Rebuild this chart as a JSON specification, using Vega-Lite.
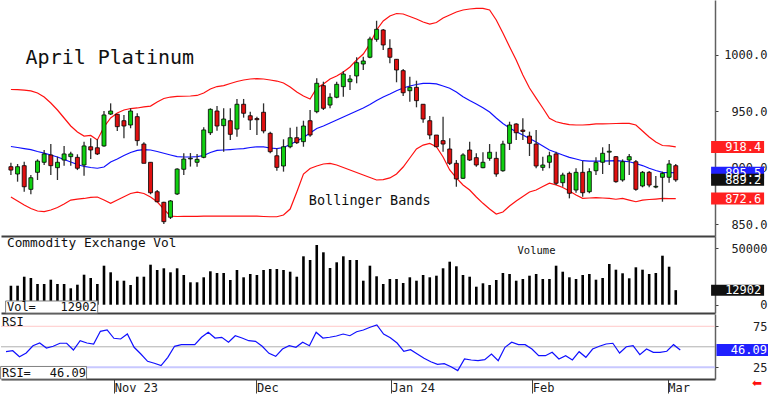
{
  "$schema": "https://vega.github.io/schema/vega-lite/v6.json",
  "padding": 0,
  "spacing": 0,
  "background": "white",
  "config": {
    "view": {"stroke": null},
    "axis": {"grid": false, "title": null, "labelFont": "DejaVu Sans Mono", "labelFontSize": 12, "labelColor": "#202020"},
    "text": {"font": "DejaVu Sans Mono"}
  },
  "datasets": {
    "one": [{}],
    "bars": [
      {"i":0,"o":900.9,"h":904.4,"l":893.5,"c":897.9,"u":969.4,"m":918.8,"b":874.0,"v":16843,"r":44.0},
      {"i":1,"o":894.4,"h":903.3,"l":887.6,"c":900.9,"u":969.2,"m":917.9,"b":870.5,"v":16843,"r":45.2},
      {"i":2,"o":901.8,"h":905.3,"l":878.7,"c":883.1,"u":968.9,"m":917.0,"b":866.9,"v":24822,"r":37.9},
      {"i":3,"o":880.8,"h":893.5,"l":876.4,"c":891.1,"u":968.1,"m":916.1,"b":863.8,"v":23670,"r":42.4},
      {"i":4,"o":895.9,"h":907.4,"l":889.1,"c":905.9,"u":966.3,"m":914.4,"b":861.6,"v":18350,"r":51.3},
      {"i":5,"o":904.8,"h":915.7,"l":902.4,"c":912.2,"u":962.7,"m":913.0,"b":861.1,"v":18350,"r":54.6},
      {"i":6,"o":911.3,"h":921.0,"l":893.5,"c":901.8,"u":957.4,"m":911.3,"b":862.5,"v":22163,"r":48.5},
      {"i":7,"o":900.0,"h":909.8,"l":889.1,"c":904.8,"u":951.2,"m":909.5,"b":864.7,"v":18350,"r":50.6},
      {"i":8,"o":906.8,"h":919.3,"l":901.8,"c":912.2,"u":944.1,"m":907.3,"b":867.8,"v":18350,"r":54.3},
      {"i":9,"o":909.8,"h":914.2,"l":901.8,"c":912.2,"u":937.0,"m":905.1,"b":871.3,"v":14540,"r":54.3},
      {"i":10,"o":909.2,"h":911.9,"l":897.9,"c":899.5,"u":931.7,"m":902.8,"b":872.2,"v":17730,"r":46.1},
      {"i":11,"o":902.4,"h":923.1,"l":892.9,"c":919.3,"u":928.1,"m":901.1,"b":872.7,"v":26595,"r":57.4},
      {"i":12,"o":918.6,"h":926.1,"l":907.7,"c":915.7,"u":928.6,"m":900.2,"b":873.6,"v":23670,"r":54.6},
      {"i":13,"o":917.7,"h":925.2,"l":911.3,"c":912.2,"u":924.6,"m":899.5,"b":874.0,"v":18350,"r":53.4},
      {"i":14,"o":919.3,"h":950.3,"l":918.6,"c":946.8,"u":936.1,"m":900.6,"b":871.3,"v":34574,"r":68.9},
      {"i":15,"o":947.6,"h":957.1,"l":946.8,"c":950.3,"u":944.1,"m":905.1,"b":868.4,"v":28720,"r":70.5},
      {"i":16,"o":947.4,"h":947.4,"l":932.6,"c":936.4,"u":948.5,"m":907.7,"b":871.3,"v":21276,"r":60.4},
      {"i":17,"o":941.7,"h":946.8,"l":926.1,"c":937.0,"u":951.2,"m":910.8,"b":874.3,"v":21276,"r":59.5},
      {"i":18,"o":937.9,"h":952.7,"l":935.0,"c":950.3,"u":952.5,"m":913.5,"b":877.1,"v":17460,"r":65.6},
      {"i":19,"o":945.3,"h":948.3,"l":919.5,"c":924.0,"u":953.0,"m":915.3,"b":878.4,"v":24822,"r":49.4},
      {"i":20,"o":921.0,"h":922.5,"l":903.9,"c":903.9,"u":953.9,"m":916.0,"b":877.1,"v":24822,"r":41.2},
      {"i":21,"o":904.8,"h":904.8,"l":876.4,"c":877.8,"u":954.7,"m":915.7,"b":874.0,"v":35460,"r":32.3},
      {"i":22,"o":878.7,"h":880.2,"l":869.3,"c":869.8,"u":958.3,"m":914.4,"b":869.8,"v":30760,"r":29.9},
      {"i":23,"o":869.3,"h":869.8,"l":850.0,"c":852.1,"u":961.4,"m":912.8,"b":863.3,"v":32270,"r":27.0},
      {"i":24,"o":856.0,"h":871.3,"l":854.5,"c":870.5,"u":962.7,"m":911.3,"b":857.1,"v":28720,"r":37.2},
      {"i":25,"o":876.7,"h":899.5,"l":875.8,"c":898.8,"u":963.2,"m":909.9,"b":856.7,"v":32270,"r":50.6},
      {"i":26,"o":898.6,"h":912.8,"l":893.5,"c":907.7,"u":963.4,"m":909.5,"b":856.8,"v":26330,"r":52.6},
      {"i":27,"o":907.8,"h":913.0,"l":901.0,"c":908.4,"u":963.6,"m":909.5,"b":856.8,"v":19860,"r":52.6},
      {"i":28,"o":904.8,"h":912.2,"l":900.9,"c":907.4,"u":964.1,"m":909.9,"b":856.9,"v":19860,"r":52.6},
      {"i":29,"o":909.2,"h":935.8,"l":908.3,"c":933.5,"u":966.3,"m":910.8,"b":857.0,"v":24290,"r":61.6},
      {"i":30,"o":931.0,"h":952.7,"l":929.0,"c":951.8,"u":969.8,"m":913.5,"b":857.1,"v":29610,"r":67.7},
      {"i":31,"o":950.3,"h":954.7,"l":932.8,"c":937.0,"u":972.0,"m":915.3,"b":857.1,"v":28100,"r":60.7},
      {"i":32,"o":937.3,"h":952.7,"l":914.2,"c":943.2,"u":972.9,"m":915.7,"b":857.0,"v":28100,"r":61.6},
      {"i":33,"o":941.7,"h":952.7,"l":924.6,"c":929.6,"u":974.7,"m":916.1,"b":857.0,"v":21900,"r":55.5},
      {"i":34,"o":934.3,"h":961.0,"l":927.5,"c":956.3,"u":976.5,"m":916.6,"b":857.1,"v":30760,"r":63.5},
      {"i":35,"o":956.3,"h":961.0,"l":944.4,"c":948.3,"u":977.8,"m":917.0,"b":857.1,"v":24290,"r":60.7},
      {"i":36,"o":946.1,"h":949.7,"l":933.5,"c":942.3,"u":978.7,"m":917.9,"b":857.0,"v":27220,"r":57.4},
      {"i":37,"o":943.6,"h":945.3,"l":929.0,"c":942.6,"u":979.0,"m":918.6,"b":857.0,"v":26330,"r":56.7},
      {"i":38,"o":949.2,"h":957.1,"l":930.5,"c":932.6,"u":978.7,"m":918.4,"b":856.7,"v":30760,"r":50.6},
      {"i":39,"o":930.5,"h":932.0,"l":912.8,"c":914.2,"u":977.8,"m":917.5,"b":856.5,"v":31650,"r":42.0},
      {"i":40,"o":910.6,"h":917.2,"l":897.3,"c":900.3,"u":976.9,"m":916.9,"b":856.5,"v":31650,"r":38.4},
      {"i":41,"o":901.5,"h":925.2,"l":896.5,"c":918.6,"u":975.2,"m":917.9,"b":858.0,"v":30760,"r":47.3},
      {"i":42,"o":918.6,"h":935.5,"l":917.2,"c":926.6,"u":971.6,"m":920.6,"b":863.3,"v":29250,"r":51.3},
      {"i":43,"o":926.6,"h":936.4,"l":921.0,"c":922.2,"u":967.2,"m":923.7,"b":878.4,"v":24822,"r":49.4},
      {"i":44,"o":923.1,"h":941.7,"l":918.6,"c":937.0,"u":963.6,"m":926.8,"b":894.4,"v":42900,"r":55.5},
      {"i":45,"o":941.7,"h":951.2,"l":927.5,"c":929.0,"u":961.0,"m":930.8,"b":899.3,"v":39630,"r":51.3},
      {"i":46,"o":949.7,"h":979.3,"l":948.3,"c":974.9,"u":970.7,"m":934.8,"b":901.5,"v":52920,"r":67.7},
      {"i":47,"o":972.8,"h":976.3,"l":951.2,"c":952.7,"u":974.3,"m":937.0,"b":903.3,"v":46450,"r":60.7},
      {"i":48,"o":955.6,"h":966.0,"l":952.7,"c":962.5,"u":978.7,"m":939.7,"b":903.9,"v":32530,"r":61.6},
      {"i":49,"o":962.5,"h":976.3,"l":961.6,"c":974.0,"u":981.4,"m":942.3,"b":902.4,"v":37590,"r":63.2},
      {"i":50,"o":971.9,"h":985.8,"l":963.0,"c":983.1,"u":984.9,"m":945.0,"b":900.2,"v":42900,"r":65.6},
      {"i":51,"o":976.3,"h":982.3,"l":968.9,"c":978.7,"u":989.4,"m":947.6,"b":898.0,"v":39630,"r":63.5},
      {"i":52,"o":981.4,"h":998.0,"l":974.9,"c":993.2,"u":995.6,"m":950.3,"b":895.7,"v":39630,"r":68.4},
      {"i":53,"o":992.0,"h":998.5,"l":986.7,"c":994.7,"u":1000.9,"m":953.0,"b":893.5,"v":21276,"r":70.5},
      {"i":54,"o":998.0,"h":1016.2,"l":997.1,"c":1014.2,"u":1009.8,"m":956.1,"b":891.3,"v":34574,"r":73.8},
      {"i":55,"o":1013.9,"h":1030.4,"l":1011.8,"c":1022.8,"u":1022.2,"m":959.6,"b":889.1,"v":25180,"r":76.6},
      {"i":56,"o":1022.2,"h":1023.1,"l":1004.4,"c":1008.9,"u":1030.2,"m":962.7,"b":889.5,"v":18350,"r":65.6},
      {"i":57,"o":1005.9,"h":1013.9,"l":992.6,"c":998.0,"u":1034.6,"m":965.4,"b":890.9,"v":22780,"r":61.1},
      {"i":58,"o":996.2,"h":996.4,"l":975.8,"c":986.7,"u":1036.8,"m":968.3,"b":894.4,"v":22780,"r":54.6},
      {"i":59,"o":986.1,"h":987.6,"l":963.6,"c":966.5,"u":1036.4,"m":970.7,"b":900.6,"v":19240,"r":44.5},
      {"i":60,"o":968.3,"h":980.7,"l":958.6,"c":971.3,"u":1034.2,"m":972.5,"b":908.6,"v":24290,"r":46.5},
      {"i":61,"o":971.3,"h":977.2,"l":953.6,"c":959.5,"u":1031.9,"m":973.8,"b":916.6,"v":21276,"r":41.2},
      {"i":62,"o":956.3,"h":956.3,"l":939.9,"c":943.2,"u":1029.3,"m":974.9,"b":920.1,"v":26330,"r":36.0},
      {"i":63,"o":941.7,"h":945.9,"l":925.2,"c":929.0,"u":1027.5,"m":974.9,"b":921.6,"v":24290,"r":31.8},
      {"i":64,"o":929.0,"h":929.0,"l":918.1,"c":918.6,"u":1028.8,"m":974.3,"b":918.6,"v":25710,"r":28.6},
      {"i":65,"o":924.0,"h":945.3,"l":914.2,"c":921.0,"u":1032.8,"m":972.5,"b":909.5,"v":32270,"r":29.4},
      {"i":66,"o":916.6,"h":926.1,"l":902.4,"c":903.9,"u":1035.5,"m":970.5,"b":898.0,"v":38120,"r":25.7},
      {"i":67,"o":903.9,"h":906.8,"l":883.1,"c":890.0,"u":1038.2,"m":967.2,"b":890.9,"v":34040,"r":20.9},
      {"i":68,"o":890.6,"h":912.8,"l":890.0,"c":911.3,"u":1039.9,"m":963.0,"b":884.7,"v":26330,"r":35.1},
      {"i":69,"o":915.7,"h":923.1,"l":905.9,"c":906.8,"u":1040.8,"m":959.6,"b":880.2,"v":24820,"r":33.9},
      {"i":70,"o":908.9,"h":912.8,"l":900.9,"c":902.4,"u":1041.3,"m":956.5,"b":874.0,"v":15960,"r":33.1},
      {"i":71,"o":900.0,"h":913.7,"l":899.5,"c":904.8,"u":1041.4,"m":953.2,"b":868.4,"v":18970,"r":34.3},
      {"i":72,"o":908.3,"h":921.0,"l":906.2,"c":913.7,"u":1039.9,"m":949.4,"b":863.3,"v":17460,"r":41.2},
      {"i":73,"o":908.3,"h":914.2,"l":892.0,"c":894.4,"u":1031.1,"m":944.1,"b":858.9,"v":21900,"r":33.1},
      {"i":74,"o":897.3,"h":924.0,"l":896.5,"c":921.0,"u":1019.5,"m":939.2,"b":860.7,"v":28100,"r":49.4},
      {"i":75,"o":921.6,"h":940.8,"l":915.7,"c":937.9,"u":1007.4,"m":935.2,"b":866.0,"v":27220,"r":55.5},
      {"i":76,"o":938.8,"h":939.4,"l":924.6,"c":931.0,"u":995.6,"m":931.9,"b":870.5,"v":21276,"r":52.6},
      {"i":77,"o":933.4,"h":943.8,"l":924.6,"c":932.2,"u":982.3,"m":929.0,"b":874.4,"v":22780,"r":52.6},
      {"i":78,"o":928.1,"h":932.0,"l":910.4,"c":921.6,"u":970.7,"m":925.9,"b":878.4,"v":25710,"r":47.3},
      {"i":79,"o":921.0,"h":933.5,"l":899.5,"c":901.5,"u":961.8,"m":922.8,"b":880.2,"v":27220,"r":39.1},
      {"i":80,"o":900.3,"h":909.8,"l":897.3,"c":902.4,"u":953.0,"m":919.3,"b":883.3,"v":22780,"r":39.1},
      {"i":81,"o":904.8,"h":914.2,"l":899.5,"c":910.6,"u":943.8,"m":915.7,"b":886.2,"v":22780,"r":43.3},
      {"i":82,"o":912.2,"h":914.2,"l":884.6,"c":886.2,"u":940.8,"m":913.5,"b":884.7,"v":34570,"r":35.1},
      {"i":83,"o":886.7,"h":895.6,"l":883.1,"c":893.5,"u":939.4,"m":911.3,"b":882.4,"v":29250,"r":39.1},
      {"i":84,"o":895.0,"h":896.5,"l":872.8,"c":877.3,"u":938.3,"m":909.2,"b":879.3,"v":24290,"r":33.9},
      {"i":85,"o":880.2,"h":899.5,"l":877.8,"c":895.9,"u":937.9,"m":907.7,"b":875.8,"v":22780,"r":44.0},
      {"i":86,"o":895.9,"h":905.9,"l":874.3,"c":877.8,"u":937.9,"m":906.2,"b":872.8,"v":26330,"r":37.2},
      {"i":87,"o":878.7,"h":899.5,"l":877.3,"c":896.5,"u":938.3,"m":905.9,"b":873.1,"v":27220,"r":47.3},
      {"i":88,"o":897.3,"h":909.2,"l":893.5,"c":904.8,"u":938.8,"m":905.9,"b":873.4,"v":22160,"r":50.6},
      {"i":89,"o":904.8,"h":918.1,"l":894.4,"c":912.8,"u":938.8,"m":905.9,"b":873.1,"v":23670,"r":53.4},
      {"i":90,"o":913.8,"h":921.0,"l":902.4,"c":914.6,"u":939.0,"m":906.1,"b":872.7,"v":36080,"r":54.3},
      {"i":91,"o":909.8,"h":910.4,"l":886.7,"c":887.6,"u":939.2,"m":906.2,"b":872.0,"v":31030,"r":42.4},
      {"i":92,"o":889.1,"h":907.4,"l":887.6,"c":905.3,"u":939.4,"m":905.9,"b":872.8,"v":27840,"r":50.1},
      {"i":93,"o":906.8,"h":912.2,"l":893.5,"c":909.8,"u":939.4,"m":905.3,"b":871.3,"v":23400,"r":51.3},
      {"i":94,"o":905.3,"h":906.8,"l":879.6,"c":880.8,"u":937.9,"m":903.7,"b":869.8,"v":33150,"r":40.4},
      {"i":95,"o":883.8,"h":897.1,"l":882.6,"c":895.9,"u":932.6,"m":901.9,"b":871.3,"v":31030,"r":47.3},
      {"i":96,"o":895.9,"h":897.1,"l":882.6,"c":884.6,"u":927.2,"m":899.5,"b":871.8,"v":27220,"r":43.3},
      {"i":97,"o":882.8,"h":892.6,"l":881.7,"c":883.5,"u":922.8,"m":897.5,"b":872.2,"v":28100,"r":43.3},
      {"i":98,"o":891.5,"h":896.5,"l":869.8,"c":895.0,"u":919.7,"m":895.9,"b":872.7,"v":43440,"r":44.5},
      {"i":99,"o":891.5,"h":906.8,"l":886.7,"c":903.3,"u":919.3,"m":895.7,"b":872.5,"v":33690,"r":52.6},
      {"i":100,"o":901.8,"h":903.3,"l":887.6,"c":889.2,"u":918.4,"m":895.5,"b":872.6,"v":12902,"r":46.09}
    ],
    "priceFlags": [
      {"k": "upper", "val": 918.4},
      {"k": "mid", "val": 895.5},
      {"k": "close", "val": 889.2},
      {"k": "lower", "val": 872.6}
    ]
  },
  "vconcat": [
    {
      "width": 714,
      "height": 236,
      "data": {"name": "bars"},
      "layer": [
        {
          "mark": {"type": "line", "color": "#ff1010", "strokeWidth": 1.2},
          "encoding": {
            "x": {"field": "i", "type": "quantitative", "scale": {"domain": [-0.74, 105.15], "nice": false, "zero": false},
                  "axis": {"orient": "bottom", "domain": true, "domainColor": "#404040", "domainWidth": 2, "ticks": false, "labels": false, "title": null}},
            "y": {"field": "u", "type": "quantitative", "scale": {"domain": [839.4, 1048.8], "nice": false, "zero": false},
                  "axis": {"orient": "right", "title": null, "values": [850, 875, 900, 925, 950, 975, 1000, 1025],
                           "labelExpr": "datum.value % 50 == 0 ? format(datum.value, '.1f') : ''",
                           "tickSize": 3, "tickColor": "#404040", "domainColor": "#606060", "domainWidth": 1.5,
                           "labelAlign": "right", "labelPadding": 49, "labelBaseline": "middle"}}
          }
        },
        {
          "mark": {"type": "line", "color": "#ff1010", "strokeWidth": 1.2},
          "encoding": {"x": {"field": "i", "type": "quantitative"}, "y": {"field": "b", "type": "quantitative"}}
        },
        {
          "mark": {"type": "line", "color": "#1010ff", "strokeWidth": 1.2},
          "encoding": {"x": {"field": "i", "type": "quantitative"}, "y": {"field": "m", "type": "quantitative"}}
        },
        {
          "mark": {"type": "rule", "color": "#303030", "strokeWidth": 1.3},
          "encoding": {"x": {"field": "i", "type": "quantitative"}, "y": {"field": "l", "type": "quantitative"}, "y2": {"field": "h"}}
        },
        {
          "mark": {"type": "bar", "width": 4, "stroke": "#000000", "strokeWidth": 0.8},
          "encoding": {
            "x": {"field": "i", "type": "quantitative"},
            "y": {"field": "o", "type": "quantitative"},
            "y2": {"field": "c"},
            "color": {"condition": {"test": "datum.c >= datum.o", "value": "#10d010"}, "value": "#e01010"}
          }
        },
        {
          "data": {"name": "priceFlags"},
          "mark": {"type": "tick", "orient": "horizontal", "size": 53, "thickness": 12, "opacity": 1},
          "encoding": {
            "x": {"datum": 109.3},
            "y": {"field": "val", "type": "quantitative"},
            "color": {"field": "k", "type": "nominal", "legend": null,
                      "scale": {"domain": ["upper", "mid", "close", "lower"], "range": ["#ff2020", "#2020ff", "#101010", "#ff2020"]}}
          }
        },
        {
          "data": {"name": "priceFlags"},
          "mark": {"type": "text", "align": "right", "baseline": "middle", "color": "white", "fontSize": 12},
          "encoding": {
            "x": {"datum": 112.86},
            "y": {"field": "val", "type": "quantitative"},
            "text": {"field": "val", "type": "quantitative", "format": ".1f"}
          }
        },
        {
          "data": {"name": "one"},
          "mark": {"type": "text", "align": "left", "baseline": "middle", "fontSize": 20, "color": "#101010"},
          "encoding": {"x": {"datum": 2.2}, "y": {"datum": 997.5}, "text": {"value": "April Platinum"}}
        },
        {
          "data": {"name": "one"},
          "mark": {"type": "text", "align": "left", "baseline": "middle", "fontSize": 13.5, "color": "#101010"},
          "encoding": {"x": {"datum": 44.8}, "y": {"datum": 870.5}, "text": {"value": "Bollinger Bands"}}
        }
      ]
    },
    {
      "width": 714,
      "height": 77,
      "data": {"name": "bars"},
      "layer": [
        {
          "mark": {"type": "bar", "width": 2.6, "color": "#000000"},
          "encoding": {
            "x": {"field": "i", "type": "quantitative", "scale": {"domain": [-0.74, 105.15], "nice": false, "zero": false},
                  "axis": {"orient": "bottom", "domain": true, "domainColor": "#404040", "domainWidth": 2, "ticks": false, "labels": false, "title": null}},
            "y": {"field": "v", "type": "quantitative", "scale": {"domain": [-7358, 60900], "nice": false, "zero": false},
                  "axis": {"orient": "right", "title": null, "values": [0, 12500, 25000, 37500, 50000],
                           "labelExpr": "datum.value % 25000 == 0 ? datum.value : ''",
                           "tickSize": 3, "tickColor": "#404040", "domainColor": "#606060", "domainWidth": 1.5,
                           "labelAlign": "right", "labelPadding": 49, "labelBaseline": "middle"}},
            "y2": {"datum": 0}
          }
        },
        {
          "data": {"name": "one"},
          "mark": {"type": "rect", "fill": "white", "stroke": "#808080", "strokeWidth": 1},
          "encoding": {"x": {"datum": -0.8}, "x2": {"datum": 13.05}, "y": {"datum": 3300}, "y2": {"datum": -7358}}
        },
        {
          "data": {"name": "one"},
          "mark": {"type": "text", "align": "left", "baseline": "middle", "fontSize": 12, "color": "#101010"},
          "encoding": {"x": {"datum": -0.6}, "y": {"datum": -2000}, "text": {"value": "Vol="}}
        },
        {
          "data": {"name": "one"},
          "mark": {"type": "text", "align": "right", "baseline": "middle", "fontSize": 12, "color": "#101010"},
          "encoding": {"x": {"datum": 12.9}, "y": {"datum": -2000}, "text": {"value": "12902"}}
        },
        {
          "data": {"name": "one"},
          "mark": {"type": "text", "align": "left", "baseline": "middle", "fontSize": 12.8, "color": "#101010"},
          "encoding": {"x": {"datum": -0.6}, "y": {"datum": 54700}, "text": {"value": "Commodity Exchange Vol"}}
        },
        {
          "data": {"name": "one"},
          "mark": {"type": "text", "align": "left", "baseline": "middle", "fontSize": 10.5, "color": "#101010"},
          "encoding": {"x": {"datum": 76.2}, "y": {"datum": 47300}, "text": {"value": "Volume"}}
        },
        {
          "data": {"name": "one"},
          "mark": {"type": "tick", "orient": "horizontal", "size": 53, "thickness": 11, "color": "#101010", "opacity": 1},
          "encoding": {"x": {"datum": 109.3}, "y": {"datum": 12902}}
        },
        {
          "data": {"name": "one"},
          "mark": {"type": "text", "align": "right", "baseline": "middle", "color": "white", "fontSize": 12},
          "encoding": {"x": {"datum": 112.86}, "y": {"datum": 12902}, "text": {"value": "12902"}}
        }
      ]
    },
    {
      "width": 714,
      "height": 65,
      "data": {"name": "bars"},
      "layer": [
        {
          "data": {"name": "one"},
          "mark": {"type": "rule", "color": "#ffc8c8", "strokeWidth": 1},
          "encoding": {"y": {"datum": 75, "type": "quantitative", "scale": {"domain": [10.7, 90], "nice": false, "zero": false},
                  "axis": {"orient": "right", "title": null, "values": [25, 50, 75],
                           "tickSize": 3, "tickColor": "#404040", "domainColor": "#606060", "domainWidth": 1.5,
                           "labelAlign": "right", "labelPadding": 49, "labelBaseline": "middle"}}}
        },
        {
          "data": {"name": "one"},
          "mark": {"type": "rule", "color": "#b0b0b0", "strokeWidth": 1},
          "encoding": {"y": {"datum": 50}}
        },
        {
          "data": {"name": "one"},
          "mark": {"type": "rule", "color": "#c8c8ff", "strokeWidth": 2},
          "encoding": {"y": {"datum": 25}}
        },
        {
          "mark": {"type": "line", "color": "#1010ff", "strokeWidth": 1.2},
          "encoding": {
            "x": {"field": "i", "type": "quantitative", "scale": {"domain": [-0.74, 105.15], "nice": false, "zero": false},
                  "axis": {"orient": "bottom", "domain": true, "domainColor": "#404040", "domainWidth": 2,
                           "values": [16.05, 37.15, 57.1, 78.05, 98.15],
                           "labelExpr": "datum.value < 20 ? 'Nov 23' : datum.value < 40 ? 'Dec' : datum.value < 60 ? 'Jan 24' : datum.value < 80 ? 'Feb' : 'Mar'",
                           "ticks": true, "tickSize": 14, "tickColor": "#404040", "tickWidth": 1,
                           "labelAlign": "left", "labelBaseline": "middle", "labelPadding": -6, "labelDx": 2,
                           "labelFlush": false, "labelOverlap": false, "title": null}},
            "y": {"field": "r", "type": "quantitative"}
          }
        },
        {
          "data": {"name": "one"},
          "mark": {"type": "rect", "fill": "white", "stroke": "#808080", "strokeWidth": 1},
          "encoding": {"x": {"datum": -0.8}, "x2": {"datum": 11.95}, "y": {"datum": 26}, "y2": {"datum": 10.7}}
        },
        {
          "data": {"name": "one"},
          "mark": {"type": "text", "align": "left", "baseline": "middle", "fontSize": 12, "color": "#101010"},
          "encoding": {"x": {"datum": -0.6}, "y": {"datum": 18}, "text": {"value": "RSI="}}
        },
        {
          "data": {"name": "one"},
          "mark": {"type": "text", "align": "right", "baseline": "middle", "fontSize": 12, "color": "#101010"},
          "encoding": {"x": {"datum": 11.85}, "y": {"datum": 18}, "text": {"value": "46.09"}}
        },
        {
          "data": {"name": "one"},
          "mark": {"type": "text", "align": "left", "baseline": "middle", "fontSize": 12, "color": "#101010"},
          "encoding": {"x": {"datum": -0.6}, "y": {"datum": 80}, "text": {"value": "RSI"}}
        },
        {
          "data": {"name": "one"},
          "mark": {"type": "tick", "orient": "horizontal", "size": 53, "thickness": 12, "color": "#2020ff", "opacity": 1},
          "encoding": {"x": {"datum": 109.3}, "y": {"datum": 46.09}}
        },
        {
          "data": {"name": "one"},
          "mark": {"type": "text", "align": "right", "baseline": "middle", "color": "white", "fontSize": 12},
          "encoding": {"x": {"datum": 112.86}, "y": {"datum": 46.09}, "text": {"value": "46.09"}}
        },
        {
          "data": {"name": "one"},
          "mark": {"type": "text", "align": "center", "baseline": "middle", "color": "#ff1010", "fontSize": 12, "font": "DejaVu Sans"},
          "encoding": {"x": {"datum": 111.4}, "y": {"datum": 5.8}, "text": {"value": "⬅"}}
        }
      ]
    }
  ]
}
